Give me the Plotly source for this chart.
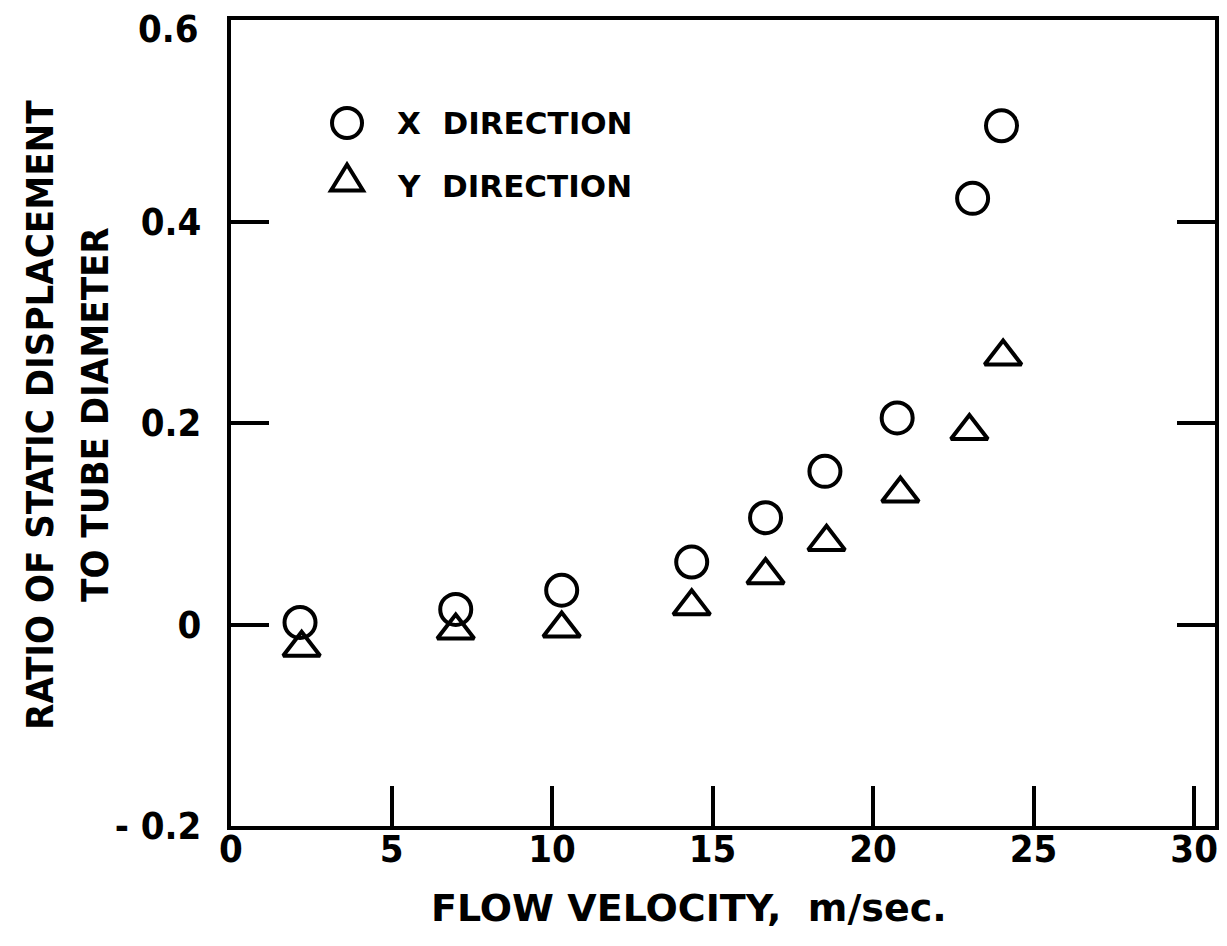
import plotly.graph_objects as go

# Flow velocity (m/sec) and static displacement / tube diameter
velocity_x = [2.15, 7.0, 10.3, 14.35, 16.65, 18.5, 20.75, 23.1, 24.0]
ratio_x = [0.002, 0.015, 0.034, 0.062, 0.106, 0.152, 0.205, 0.423, 0.495]

velocity_y = [2.2, 7.0, 10.3, 14.35, 16.65, 18.55, 20.85, 23.0, 24.05]
ratio_y = [-0.023, -0.006, -0.004, 0.018, 0.049, 0.082, 0.130, 0.192, 0.266]

x_ticks = [0, 5, 10, 15, 20, 25, 30]
y_ticks = [-0.2, 0.0, 0.2, 0.4, 0.6]
# the top label is set just below its tick so it stays inside the page
y_tick_text = ["- 0.2", "0", "0.2", "0.4", ""]
y_top_label = "0.6"

NARROW = "DejaVu Sans Condensed, Liberation Sans Narrow, DejaVu Sans, sans-serif"
WIDE = "DejaVu Sans, Liberation Sans, sans-serif"
INK = "black"

fig = go.Figure()
fig.add_trace(go.Scatter(
    x=velocity_x, y=ratio_x, mode="markers", name="X DIRECTION",
    marker=dict(symbol="circle-open", size=31, color=INK, line=dict(width=4, color=INK)),
))
fig.add_trace(go.Scatter(
    x=velocity_y, y=ratio_y, mode="markers", name="Y DIRECTION",
    marker=dict(symbol="triangle-up-open", size=32, color=INK, line=dict(width=4, color=INK)),
))

tick_font = dict(family=NARROW, size=38, color=INK, weight="bold")
axis_common = dict(
    showgrid=False, zeroline=False, showline=True, linewidth=4, linecolor=INK,
    ticks="inside", tickwidth=4, tickcolor=INK, ticklabeloverflow="allow",
    automargin=False, tickfont=tick_font,
)

fig.update_xaxes(
    range=[0, 30.65], tickvals=x_ticks, ticklen=40, mirror=True,
    ticklabelstandoff=-14, **axis_common,
)
fig.update_yaxes(
    range=[-0.2, 0.6], tickvals=y_ticks, ticktext=y_tick_text, ticklen=38,
    mirror="ticks", ticklabelstandoff=18, **axis_common,
)

x_title_font = dict(family=WIDE, size=38, color=INK, weight="bold")
y_title_font = dict(family=NARROW, size=38, color=INK, weight="bold")
key_font = dict(family=WIDE, size=31, color=INK, weight="bold")

annotations = [
    # top y tick label
    dict(text=y_top_label, xref="paper", yref="paper",
         x=0, y=1, xshift=-30, yshift=-9, xanchor="right", yanchor="middle",
         showarrow=False, font=tick_font),
    # x-axis title
    dict(text="FLOW VELOCITY,  m/sec.", xref="paper", yref="paper",
         x=0.465, y=0, yshift=-82, xanchor="center", yanchor="middle",
         showarrow=False, font=x_title_font),
    # y-axis title, two lines
    dict(text="RATIO OF STATIC DISPLACEMENT", xref="paper", yref="paper",
         x=0, y=0.51, xshift=-191, xanchor="center", yanchor="middle",
         textangle=-90, showarrow=False, font=y_title_font),
    dict(text="TO TUBE DIAMETER", xref="paper", yref="paper",
         x=0, y=0.51, xshift=-136, xanchor="center", yanchor="middle",
         textangle=-90, showarrow=False, font=y_title_font),
    # key labels
    dict(text="X  DIRECTION", xref="paper", yref="paper",
         x=0.1667, y=0.872, xanchor="left", yanchor="middle",
         showarrow=False, font=key_font),
    dict(text="Y  DIRECTION", xref="paper", yref="paper",
         x=0.1667, y=0.794, xanchor="left", yanchor="middle",
         showarrow=False, font=key_font),
]

shapes = [
    # key symbols
    dict(type="circle", xref="paper", yref="paper",
         xsizemode="pixel", ysizemode="pixel", xanchor=0.1179, yanchor=0.8722,
         x0=-15, x1=15, y0=-15, y1=15, line=dict(color=INK, width=4)),
    dict(type="path", xref="paper", yref="paper",
         xsizemode="pixel", ysizemode="pixel", xanchor=0.1179, yanchor=0.8034,
         path="M -16,-12 L 16,-12 L 0,14 Z", line=dict(color=INK, width=4)),
]

fig.update_layout(
    width=1227, height=946,
    margin=dict(l=231, r=12, t=20, b=120),
    plot_bgcolor="white", paper_bgcolor="white",
    showlegend=False,
    annotations=annotations, shapes=shapes,
    font=dict(family=NARROW, color=INK),
)

fig.write_html("out.html")
